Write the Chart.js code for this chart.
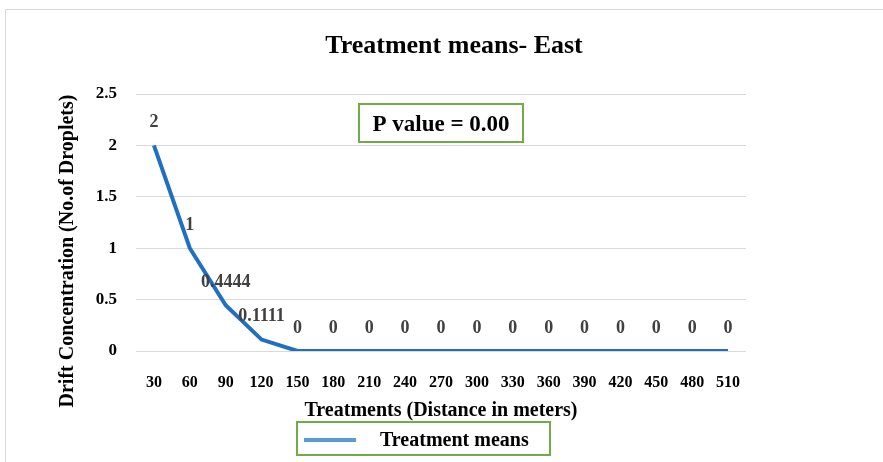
<!DOCTYPE html>
<html>
<head>
<meta charset="utf-8">
<script src="https://cdn.jsdelivr.net/npm/chart.js@4.4.1/dist/chart.umd.min.js"></script>
<style>
    body { margin: 0; background: #fff; }
    #wrap { width: 883px; height: 462px; position: relative; }
</style>
</head>
<body>
<div id="wrap"><canvas id="chart" width="883" height="462"></canvas></div>
<script>
// distances (m)
var distances = ['30', '60', '90', '120', '150', '180', '210', '240', '270', '300', '330', '360', '390', '420', '450', '480', '510'];
// mean droplet counts
var treatmentMeans = [2, 1, 0.4444, 0.1111, 0, 0, 0, 0, 0, 0, 0, 0, 0, 0, 0, 0, 0];
var yTicks = [0, 0.5, 1, 1.5, 2, 2.5];

var serif = '"Liberation Serif", "Times New Roman", serif';

// frame, title, value labels, p-value box, y title and legend
var extrasPlugin = {
    id: 'extras',
    beforeDraw: function(chart) {
        var ctx = chart.ctx;
        ctx.save();
        ctx.fillStyle = '#fff';
        ctx.fillRect(0, 0, chart.width, chart.height);
        ctx.strokeStyle = '#d9d9d9';
        ctx.lineWidth = 1;
        ctx.strokeRect(5.5, 9.5, 900, 470);

        ctx.fillStyle = '#000';
        ctx.textAlign = 'center';
        ctx.textBaseline = 'middle';
        ctx.font = 'bold 26px ' + serif;
        ctx.fillText('Treatment means- East', 454, 46);
        ctx.restore();
    },
    afterDatasetsDraw: function(chart) {
        var ctx = chart.ctx;
        var meta = chart.getDatasetMeta(0);
        ctx.save();
        ctx.font = 'bold 18px ' + serif;
        ctx.fillStyle = '#404040';
        ctx.textAlign = 'center';
        ctx.textBaseline = 'middle';
        meta.data.forEach(function(pt, i) {
            ctx.fillText(String(treatmentMeans[i]), pt.x, pt.y - 23);
        });

        // p value box
        ctx.strokeStyle = '#70ad47';
        ctx.lineWidth = 2;
        ctx.strokeRect(359, 104, 164, 38);
        ctx.font = 'bold 23px ' + serif;
        ctx.fillStyle = '#000';
        ctx.fillText('P value = 0.00', 441, 125);

        // y axis title
        ctx.save();
        ctx.translate(68, 251);
        ctx.rotate(-Math.PI / 2);
        ctx.font = 'bold 20px ' + serif;
        ctx.fillText('Drift Concentration (No.of Droplets)', 0, 0);
        ctx.restore();

        // legend
        ctx.strokeStyle = '#70ad47';
        ctx.lineWidth = 2;
        ctx.strokeRect(297, 422, 253, 33);
        ctx.strokeStyle = '#5b9bd5';
        ctx.lineWidth = 4;
        ctx.beginPath();
        ctx.moveTo(304, 440);
        ctx.lineTo(356, 440);
        ctx.stroke();
        ctx.font = 'bold 20px ' + serif;
        ctx.textAlign = 'left';
        ctx.fillText(chart.data.datasets[0].label, 380, 441);
        ctx.restore();
    }
};

var ctx = document.getElementById('chart').getContext('2d');
new Chart(ctx, {
    type: 'line',
    data: {
        labels: distances,
        datasets: [{
            label: 'Treatment means',
            data: treatmentMeans,
            borderColor: '#1f70c1',
            backgroundColor: '#1f70c1',
            borderWidth: 4,
            pointRadius: 0,
            tension: 0
        }]
    },
    options: {
        responsive: false,
        animation: false,
        layout: { padding: { top: 94, right: 137, bottom: 0, left: 0 } },
        plugins: {
            legend: { display: false },
            tooltip: { enabled: false },
            title: { display: false }
        },
        scales: {
            x: {
                offset: true,
                grid: { display: false },
                border: { display: false },
                ticks: {
                    color: '#000',
                    padding: 14,
                    maxRotation: 0,
                    autoSkip: false,
                    font: { family: serif, size: 16, weight: 'bold' }
                },
                title: {
                    display: true,
                    text: 'Treatments (Distance in meters)',
                    color: '#000',
                    font: { family: serif, size: 20, weight: 'bold' },
                    padding: { top: 0, bottom: 39 }
                },
                afterFit: function(scale) { scale.height = 111; }
            },
            y: {
                min: 0,
                max: 2.5,
                afterBuildTicks: function(scale) {
                    scale.ticks = yTicks.map(function(v) { return { value: v }; });
                },
                grid: { color: '#d9d9d9', lineWidth: 1, drawTicks: false },
                border: { display: false },
                ticks: {
                    color: '#000',
                    padding: 19,
                    font: { family: serif, size: 17, weight: 'bold' },
                    callback: function(v) { return String(v); }
                },
                afterFit: function(scale) { scale.width = 136; }
            }
        }
    },
    plugins: [extrasPlugin]
});
</script>
</body>
</html>
